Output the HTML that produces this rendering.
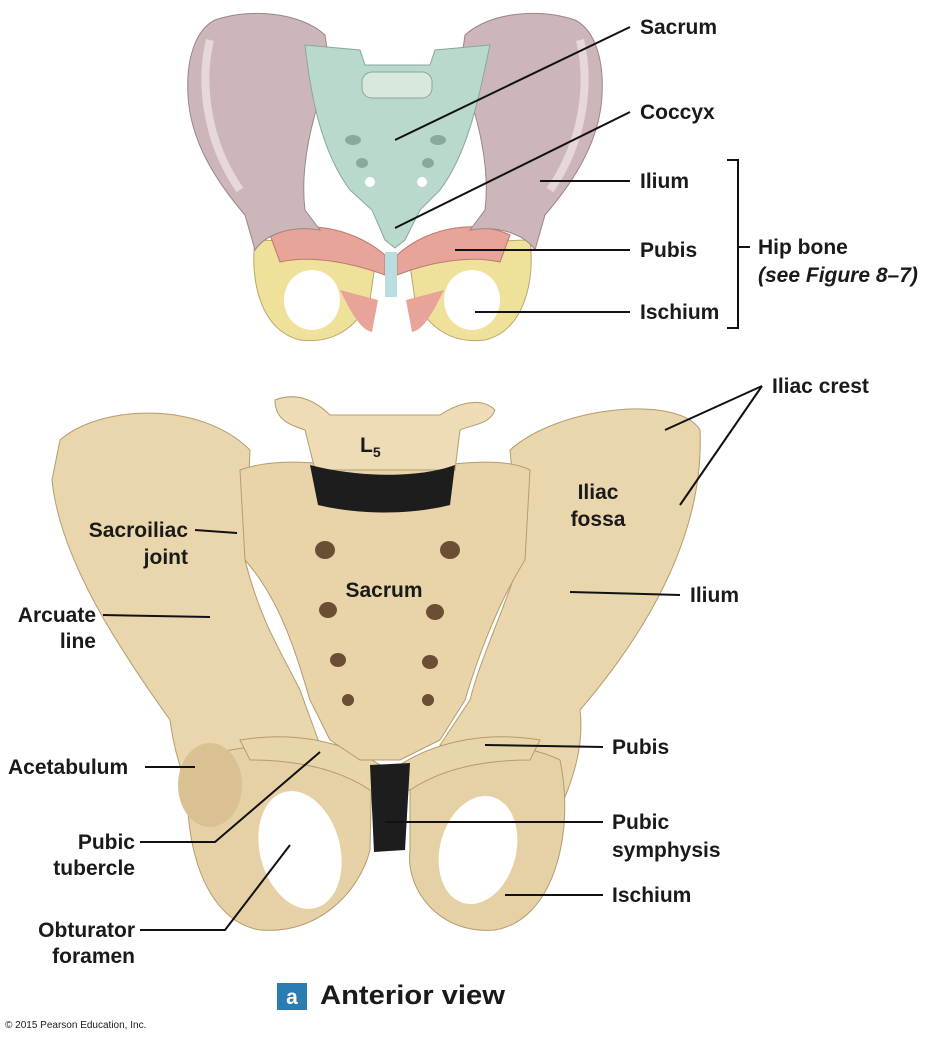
<!DOCTYPE html>
<html><head><meta charset="utf-8"><style>
html,body{margin:0;padding:0;background:#fff;}
svg{display:block;}
text{font-family:"Liberation Sans",Arial,sans-serif;font-weight:bold;fill:#1a1a1a;font-size:21px;}
</style></head><body>
<svg width="940" height="1040" viewBox="0 0 940 1040" xmlns="http://www.w3.org/2000/svg">
<!-- TOP ILLUSTRATION -->
<path d="M255,240 C250,280 260,330 300,340 C340,345 360,320 370,300 L375,265 C340,250 300,240 255,240Z" fill="#efe09a" stroke="#b8a86a"/>
<path d="M530,240 C535,280 525,330 485,340 C445,345 425,320 415,300 L410,265 C445,250 485,240 530,240Z" fill="#efe09a" stroke="#b8a86a"/>
<ellipse cx="312" cy="300" rx="28" ry="30" fill="#fff"/>
<ellipse cx="472" cy="300" rx="28" ry="30" fill="#fff"/>
<path d="M340,290 C350,310 360,330 372,332 L378,300Z" fill="#e9a49a"/>
<path d="M444,290 C434,310 424,330 412,332 L406,300Z" fill="#e9a49a"/>
<path d="M270,235 C300,220 350,225 385,255 L385,275 C350,262 310,255 280,262Z" fill="#e9a49a" stroke="#b87a72"/>
<path d="M510,235 C480,220 430,225 397,255 L397,275 C430,262 470,255 500,262Z" fill="#e9a49a" stroke="#b87a72"/>
<rect x="385" y="252" width="12" height="45" fill="#b9dde0"/>
<path d="M215,20 C250,8 300,12 325,35 L330,70 C310,120 300,170 305,210 L320,230 C290,225 265,235 255,250 L245,215 C215,180 190,140 188,95 C186,60 195,30 215,20Z" fill="#cdb6ba" stroke="#9a8589"/>
<path d="M575,20 C540,8 490,12 465,35 L460,70 C480,120 490,170 485,210 L470,230 C500,225 525,235 535,250 L545,215 C575,180 600,140 602,95 C604,60 595,30 575,20Z" fill="#cdb6ba" stroke="#9a8589"/>
<path d="M210,40 C200,80 205,140 240,190" stroke="#e6d8da" stroke-width="8" fill="none"/>
<path d="M580,40 C590,80 585,140 550,190" stroke="#e6d8da" stroke-width="8" fill="none"/>
<path d="M305,45 L360,50 L365,65 L430,65 L435,50 L490,45 C480,90 470,150 440,190 L420,210 L405,240 L395,248 L385,240 L372,210 L350,190 C320,150 310,90 305,45Z" fill="#b8d9cb" stroke="#86a99b"/>
<rect x="362" y="72" width="70" height="26" rx="10" fill="#d8e8dc" stroke="#86a99b"/>
<ellipse cx="353" cy="140" rx="8" ry="5" fill="#8aa89c"/><ellipse cx="438" cy="140" rx="8" ry="5" fill="#8aa89c"/>
<ellipse cx="362" cy="163" rx="6" ry="5" fill="#8aa89c"/><ellipse cx="428" cy="163" rx="6" ry="5" fill="#8aa89c"/>
<ellipse cx="370" cy="182" rx="5" ry="5" fill="#fff"/><ellipse cx="422" cy="182" rx="5" ry="5" fill="#fff"/>
<g stroke="#111" stroke-width="2" fill="none">
<line x1="630" y1="27" x2="395" y2="140"/>
<line x1="630" y1="112" x2="395" y2="228"/>
<line x1="630" y1="181" x2="540" y2="181"/>
<line x1="630" y1="250" x2="455" y2="250"/>
<line x1="630" y1="312" x2="475" y2="312"/>
<polyline points="727,160 738,160 738,328 727,328"/>
<line x1="738" y1="247" x2="750" y2="247"/>
</g>
<text x="640" y="34">Sacrum</text>
<text x="640" y="119">Coccyx</text>
<text x="640" y="188">Ilium</text>
<text x="640" y="257">Pubis</text>
<text x="640" y="319">Ischium</text>
<text x="758" y="254">Hip bone</text>
<text x="758" y="282" font-style="italic">(see Figure 8–7)</text>

<!-- BOTTOM PHOTO -->
<path d="M60,440 C100,405 200,400 250,450 L245,560 C260,620 280,650 300,690 L320,745 C290,760 260,780 230,800 L210,830 C190,800 175,760 170,720 C120,650 60,560 52,480Z" fill="#ead6ad" stroke="#b49c6e"/>
<path d="M700,430 C680,395 560,405 510,450 L520,560 C500,620 480,660 470,700 L440,745 C480,760 520,780 540,800 L550,830 C570,790 585,750 580,710 C640,640 705,540 700,430Z" fill="#ead6ad" stroke="#b49c6e"/>
<path d="M190,760 C180,830 200,920 260,930 C320,935 360,890 370,850 L372,760 C330,740 250,740 190,760Z" fill="#e6d1a6" stroke="#b49c6e"/>
<path d="M560,760 C575,830 555,920 495,930 C440,935 405,890 410,850 L410,760 C450,740 520,740 560,760Z" fill="#e6d1a6" stroke="#b49c6e"/>
<ellipse cx="300" cy="850" rx="40" ry="60" fill="#fff" transform="rotate(-15 300 850)"/>
<ellipse cx="478" cy="850" rx="38" ry="55" fill="#fff" transform="rotate(15 478 850)"/>
<ellipse cx="210" cy="785" rx="32" ry="42" fill="#d9c192"/>
<path d="M240,740 C300,730 350,745 380,765 L400,765 C430,745 480,730 540,740 L530,760 C480,760 440,770 410,790 L370,790 C340,770 300,760 250,760Z" fill="#e9d5aa" stroke="#b49c6e"/>
<path d="M240,470 C280,455 330,465 390,470 C450,465 500,455 530,470 L525,560 C500,600 480,650 465,700 L440,740 L400,760 L360,760 L330,740 L310,700 C295,650 280,600 245,560Z" fill="#e8d4a8" stroke="#b49c6e"/>
<path d="M275,400 C300,390 320,405 330,415 L440,415 C455,405 480,395 495,410 C490,425 470,425 460,430 L455,470 L315,470 L305,430 C290,425 275,420 275,400Z" fill="#eedcb6" stroke="#b49c6e"/>
<path d="M310,465 C360,478 420,478 455,465 L450,505 C410,515 360,515 318,505Z" fill="#1d1d1d"/>
<g fill="#6a4f34">
<ellipse cx="325" cy="550" rx="10" ry="9"/><ellipse cx="450" cy="550" rx="10" ry="9"/>
<ellipse cx="328" cy="610" rx="9" ry="8"/><ellipse cx="435" cy="612" rx="9" ry="8"/>
<ellipse cx="338" cy="660" rx="8" ry="7"/><ellipse cx="430" cy="662" rx="8" ry="7"/>
<ellipse cx="348" cy="700" rx="6" ry="6"/><ellipse cx="428" cy="700" rx="6" ry="6"/>
</g>
<path d="M370,765 L410,763 L405,850 L374,852Z" fill="#1d1d1d"/>
<g stroke="#111" stroke-width="2" fill="none">
<line x1="762" y1="386" x2="665" y2="430"/>
<line x1="762" y1="386" x2="680" y2="505"/>
<line x1="680" y1="595" x2="570" y2="592"/>
<line x1="195" y1="530" x2="237" y2="533"/>
<line x1="103" y1="615" x2="210" y2="617"/>
<line x1="145" y1="767" x2="195" y2="767"/>
<line x1="603" y1="747" x2="485" y2="745"/>
<polyline points="140,842 215,842 320,752"/>
<line x1="603" y1="822" x2="385" y2="822"/>
<line x1="603" y1="895" x2="505" y2="895"/>
<polyline points="140,930 225,930 290,845"/>
</g>
<text x="772" y="393">Iliac crest</text>
<text x="598" y="499" text-anchor="middle">Iliac</text>
<text x="598" y="526" text-anchor="middle">fossa</text>
<text x="690" y="602">Ilium</text>
<text x="188" y="537" text-anchor="end">Sacroiliac</text>
<text x="188" y="564" text-anchor="end">joint</text>
<text x="384" y="597" text-anchor="middle">Sacrum</text>
<text x="360" y="452">L<tspan font-size="14" dy="5">5</tspan></text>
<text x="96" y="622" text-anchor="end">Arcuate</text>
<text x="96" y="648" text-anchor="end">line</text>
<text x="8" y="774">Acetabulum</text>
<text x="612" y="754">Pubis</text>
<text x="135" y="849" text-anchor="end">Pubic</text>
<text x="135" y="875" text-anchor="end">tubercle</text>
<text x="612" y="829">Pubic</text>
<text x="612" y="857">symphysis</text>
<text x="612" y="902">Ischium</text>
<text x="135" y="937" text-anchor="end">Obturator</text>
<text x="135" y="963" text-anchor="end">foramen</text>
<rect x="277" y="983" width="30" height="27" fill="#2a7db3"/>
<text x="292" y="1004" text-anchor="middle" style="fill:#fff;font-size:21px">a</text>
<text x="320" y="1004" style="font-size:27px" textLength="185" lengthAdjust="spacingAndGlyphs">Anterior view</text>
<text x="5" y="1028" style="font-size:10px;font-weight:normal">© 2015 Pearson Education, Inc.</text>
</svg>
</body></html>
